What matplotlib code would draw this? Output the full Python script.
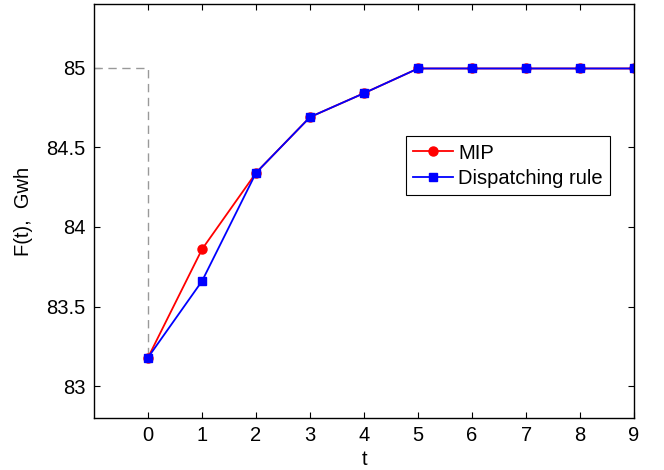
import matplotlib
matplotlib.use('Agg')
import matplotlib.pyplot as plt

t = [0, 1, 2, 3, 4, 5, 6, 7, 8, 9]
mip = [83.18, 83.86, 84.34, 84.69, 84.84, 84.995, 84.995, 84.995, 84.995, 84.995]
dispatch = [83.18, 83.66, 84.34, 84.69, 84.84, 84.995, 84.995, 84.995, 84.995, 84.995]

plt.rcParams['font.family'] = ['Liberation Sans', 'DejaVu Sans']

fig = plt.figure(figsize=(6.64, 4.70), dpi=100)
ax = fig.add_axes([0.1416, 0.1106, 0.8134, 0.8809])

# dashed guide to the limit value
ax.plot([-1, 0, 0], [85, 85, mip[0]], '--', color='#999999', lw=1, dashes=(6, 4))

ax.plot(t, mip, '-o', color='red', lw=1.3, ms=6.5, label='MIP')
ax.plot(t, dispatch, '-s', color='blue', lw=1.3, ms=5.5, label='Dispatching rule')

ax.set_xlim(-1, 9)
ax.set_ylim(82.8, 85.4)
ax.set_xticks(t)
ax.set_yticks([83, 83.5, 84, 84.5, 85])
ax.set_yticklabels(['83', '83.5', '84', '84.5', '85'])
ax.tick_params(direction='in', top=True, right=True, labelsize=14.5, length=4, pad=6)
for s in ax.spines.values():
    s.set_linewidth(1)

ax.set_xlabel('t', fontsize=14.5, labelpad=3)
ax.set_ylabel('F(t),  Gwh', fontsize=14.5, labelpad=10)

leg = ax.legend(loc='upper left', bbox_to_anchor=(0.577, 0.68), fontsize=14.5,
                fancybox=False, edgecolor='black', framealpha=1,
                handlelength=2.0, borderpad=0.35, labelspacing=0.3,
                handletextpad=0.25, borderaxespad=0)
leg.get_frame().set_linewidth(0.8)

fig.savefig('out.png', dpi=100)
